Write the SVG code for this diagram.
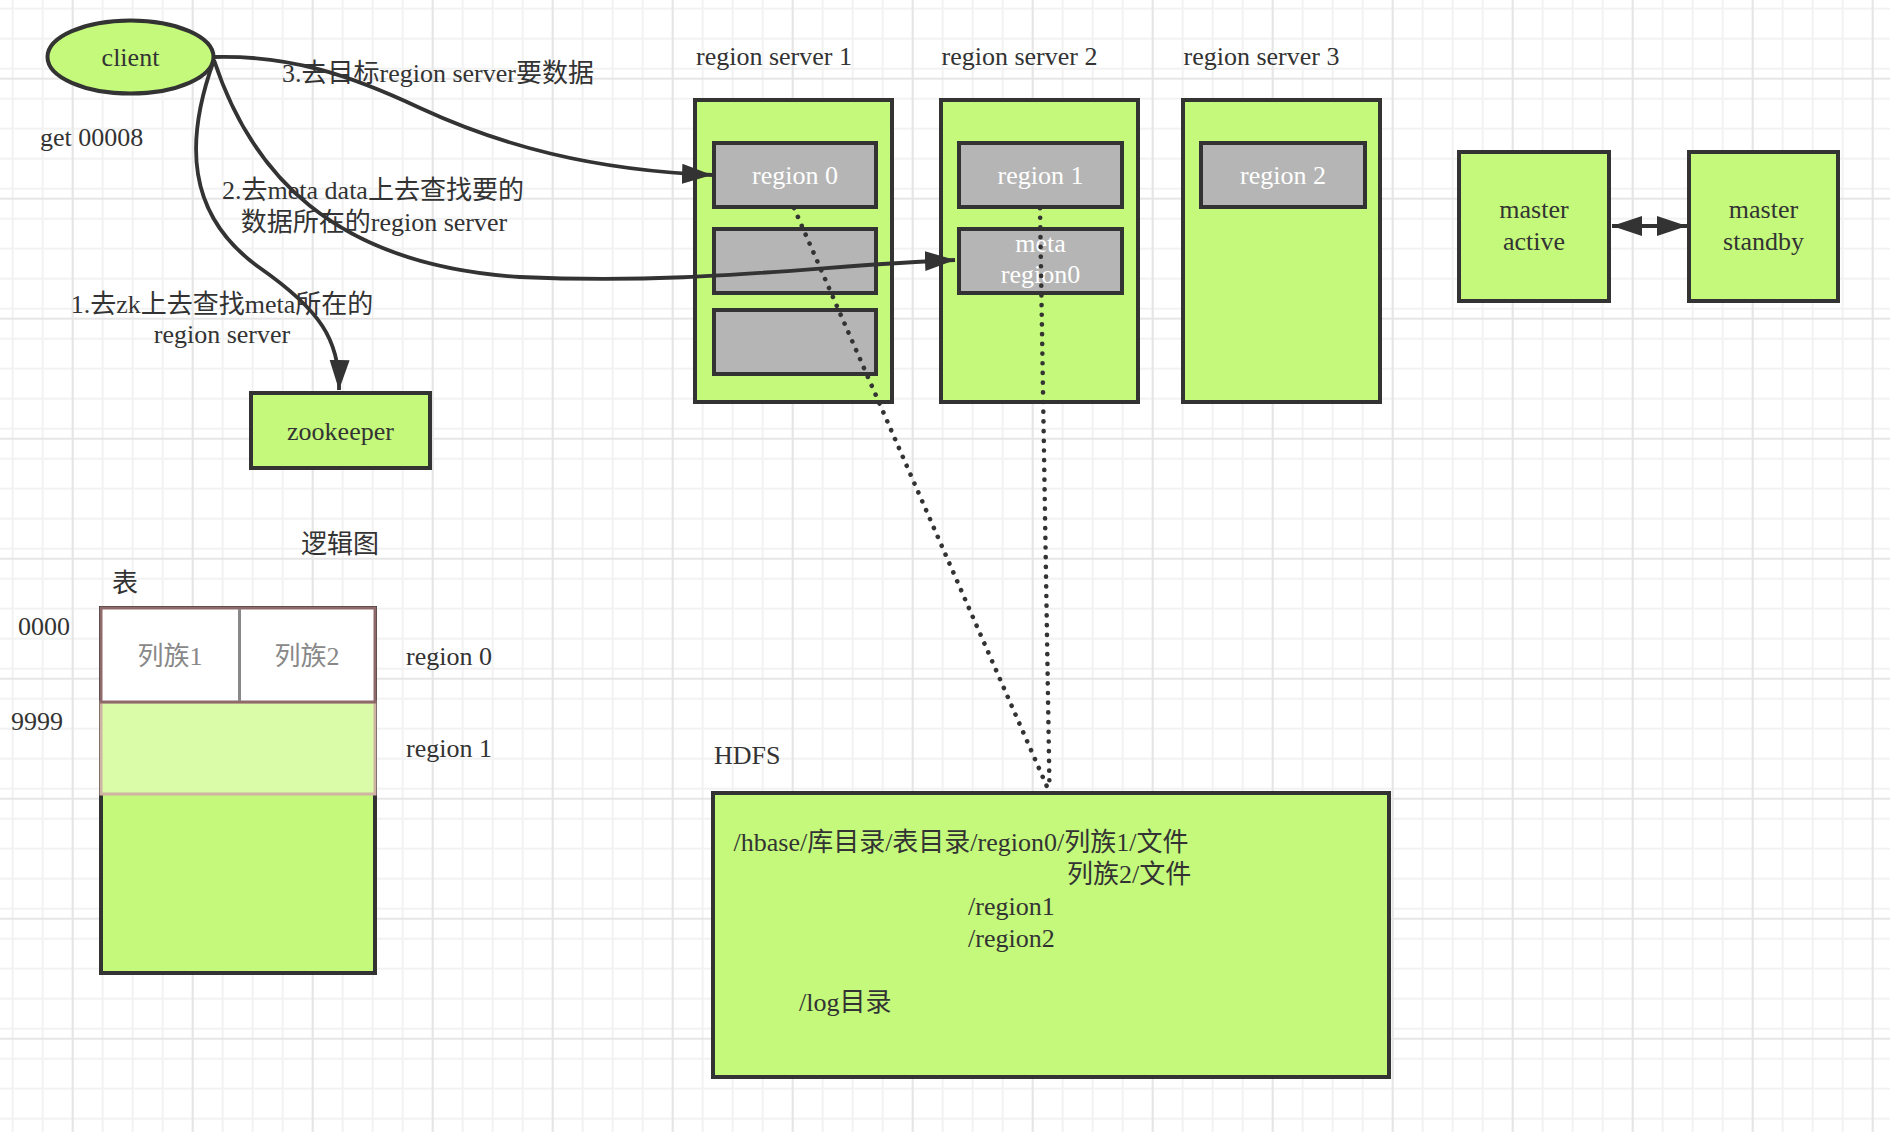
<svg xmlns="http://www.w3.org/2000/svg" width="1890" height="1132" viewBox="0 0 1890 1132">
<defs>
<pattern id="gridMinor" patternUnits="userSpaceOnUse" x="11.7" y="7.7" width="30" height="30">
<path d="M1,0 V30 M0,1 H30" stroke="#f2f2f2" stroke-width="2" fill="none"/>
</pattern>
<pattern id="gridMajor" patternUnits="userSpaceOnUse" x="71.7" y="77.7" width="120" height="120">
<path d="M1,0 V120 M0,1 H120" stroke="#e6e6e6" stroke-width="2" fill="none"/>
</pattern>
<marker id="arrow" markerUnits="userSpaceOnUse" markerWidth="32" markerHeight="22" refX="30" refY="10" orient="auto" viewBox="0 0 32 22">
<path d="M0,0 L30,10 L0,20 Z" fill="#333"/>
</marker>
<marker id="arrowStart" markerUnits="userSpaceOnUse" markerWidth="32" markerHeight="22" refX="30" refY="10" orient="auto-start-reverse" viewBox="0 0 32 22">
<path d="M0,0 L30,10 L0,20 Z" fill="#333"/>
</marker>
</defs>
<style>
text { font-family: "Liberation Serif", "Noto Sans CJK SC", serif; font-size: 26px; fill: #333; }
.green { fill: #c4f97b; stroke: #333; stroke-width: 4; }
.gray { fill: #b5b5b5; stroke: #333; stroke-width: 4; }
.w { fill: #ffffff; }
.mid { text-anchor: middle; }
.conn { fill: none; stroke: #333; stroke-width: 3.8; }
.dots { fill: none; stroke: #333; stroke-width: 4.6; stroke-linecap: round; stroke-dasharray: 0.1 9.6; }
.col { fill: #888; }
</style>
<rect width="1890" height="1132" fill="#ffffff"/>
<rect width="1890" height="1132" fill="url(#gridMinor)"/>
<rect width="1890" height="1132" fill="url(#gridMajor)"/>

<g id="client">
<ellipse cx="130.5" cy="57" rx="83" ry="36.5" class="green"/>
<text x="130.5" y="66" class="mid">client</text>
</g>
<text x="40" y="146">get 00008</text>

<g id="zookeeper">
<rect x="251" y="393" width="179" height="75" class="green"/>
<text x="340.5" y="440" class="mid">zookeeper</text>
</g>

<g id="region-server-1">
<text x="696" y="65">region server 1</text>
<rect x="695" y="100" width="197" height="302" class="green"/>
<g id="region0">
<rect x="714" y="143" width="162" height="64" class="gray"/>
<text x="795" y="184" class="mid w">region 0</text>
</g>
<rect x="714" y="229" width="162" height="64" class="gray"/>
<rect x="714" y="310" width="162" height="64" class="gray"/>
</g>

<g id="region-server-2">
<text x="941.5" y="65">region server 2</text>
<rect x="941" y="100" width="197" height="302" class="green"/>
<g id="region1">
<rect x="959" y="143" width="163" height="64" class="gray"/>
<text x="1040.5" y="184" class="mid w">region 1</text>
</g>
<g id="meta-region0">
<rect x="959" y="229" width="163" height="64" class="gray"/>
<text x="1040.5" y="252" class="mid w">meta</text>
<text x="1040.5" y="283" class="mid w">region0</text>
</g>
</g>

<g id="region-server-3">
<text x="1183.5" y="65">region server 3</text>
<rect x="1183" y="100" width="197" height="302" class="green"/>
<g id="region2">
<rect x="1201" y="143" width="164" height="64" class="gray"/>
<text x="1283" y="184" class="mid w">region 2</text>
</g>
</g>

<g id="master-active">
<rect x="1459" y="152" width="150" height="149" class="green"/>
<text x="1534" y="218" class="mid">master</text>
<text x="1534" y="250" class="mid">active</text>
</g>
<g id="master-standby">
<rect x="1689" y="152" width="149" height="149" class="green"/>
<text x="1763.5" y="218" class="mid">master</text>
<text x="1763.5" y="250" class="mid">standby</text>
</g>

<g id="logic-table">
<text x="301" y="553">逻辑图</text>
<text x="112" y="592">表</text>
<text x="18" y="635">0000</text>
<text x="11" y="730">9999</text>
<rect x="101" y="608" width="274" height="365" class="green"/>
<rect x="101" y="702" width="274" height="92" fill="#dafba8" stroke="#cfb3a3" stroke-width="3"/>
<rect x="101" y="608" width="274" height="94" fill="#ffffff" stroke="#8f6a6a" stroke-width="3"/>
<line x1="239.5" y1="609" x2="239.5" y2="701" stroke="#888" stroke-width="3"/>
<text x="170" y="665" class="mid col">列族1</text>
<text x="307" y="665" class="mid col">列族2</text>
<text x="406" y="665">region 0</text>
<text x="406" y="757">region 1</text>
</g>

<g id="hdfs">
<text x="714" y="764">HDFS</text>
<rect x="713" y="793" width="676" height="284" class="green"/>
<text x="733.5" y="851">/hbase/库目录/表目录/region0/列族1/文件</text>
<text x="1067" y="883">列族2/文件</text>
<text x="968" y="915">/region1</text>
<text x="968" y="947">/region2</text>
<text x="799" y="1011">/log目录</text>
</g>

<g id="connectors">
<path class="conn" d="M214,60 C185,140 185,215 260,268 C320,310 340,340 339,390" marker-end="url(#arrow)"/>
<path class="conn" d="M214,60 C250,170 330,265 520,277 C700,285 820,265 955,260" marker-end="url(#arrow)"/>
<path class="conn" d="M214,57 C290,55 350,75 420,108 C500,145 590,170 712,175" marker-end="url(#arrow)"/>
<line class="conn" x1="1612" y1="226" x2="1687" y2="226" stroke-width="4.5" marker-start="url(#arrowStart)" marker-end="url(#arrow)"/>
<line class="dots" x1="794" y1="208" x2="1048" y2="789"/>
<line class="dots" x1="1040" y1="208" x2="1049.5" y2="789"/>
</g>

<g id="arrow-labels">
<text x="282" y="82">3.去目标region server要数据</text>
<text x="373" y="199" class="mid">2.去meta data上去查找要的</text>
<text x="374" y="231" class="mid">数据所在的region server</text>
<text x="222" y="313" class="mid">1.去zk上去查找meta所在的</text>
<text x="222" y="343" class="mid">region server</text>
</g>
</svg>
